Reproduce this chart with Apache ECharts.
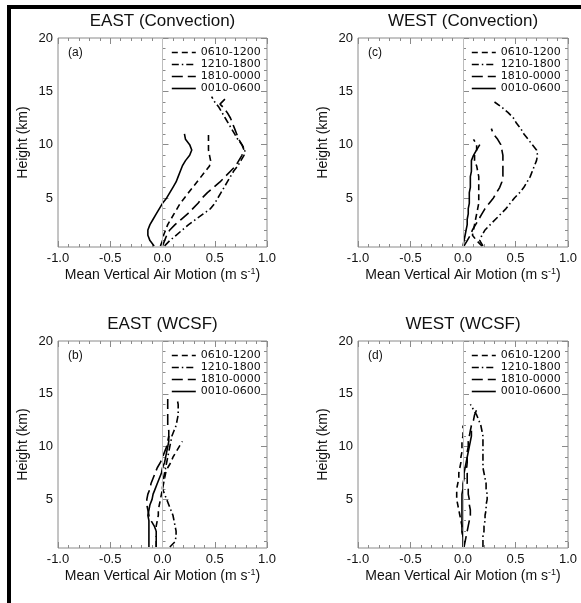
<!DOCTYPE html>
<html><head><meta charset="utf-8">
<script src="https://cdn.jsdelivr.net/npm/echarts@6/dist/echarts.min.js"></script>
<style>html,body{margin:0;padding:0;background:#fff}#c{width:581px;height:603px}</style>
</head><body><div id="c"></div><script>
// ---------- labels ----------
const seriesNames = ['0610-1200', '1210-1800', '1810-0000', '0010-0600'];
const panelTitles = ['EAST (Convection)', 'WEST (Convection)', 'EAST (WCSF)', 'WEST (WCSF)'];
const panelTags = ['(a)', '(c)', '(b)', '(d)'];
const xTickValues = [-1.0, -0.5, 0.0, 0.5, 1.0];
const yTickValues = [5, 10, 15, 20];
const yMinorTickValues = [1, 2, 3, 4, 6, 7, 8, 9, 11, 12, 13, 14, 16, 17, 18, 19];
const xAxisTitle = 'Mean Vertical Air Motion (m s{sup|-1})';
const yAxisTitle = 'Height (km)';

// ---------- heights (km) ----------
const H10  = [0.5,1,1.5,2,2.5,3,3.5,4,4.5,5,5.5,6,6.5,7,7.5,8,8.5,9,9.5,10];
const H105 = [0.5,1,1.5,2,2.5,3,3.5,4,4.5,5,5.5,6,6.5,7,7.5,8,8.5,9,9.5,10,10.5];
const H11  = [0.5,1,1.5,2,2.5,3,3.5,4,4.5,5,5.5,6,6.5,7,7.5,8,8.5,9,9.5,10,10.5,11];
const H115 = [0.5,1,1.5,2,2.5,3,3.5,4,4.5,5,5.5,6,6.5,7,7.5,8,8.5,9,9.5,10,10.5,11,11.5];
const H12  = [0.5,1,1.5,2,2.5,3,3.5,4,4.5,5,5.5,6,6.5,7,7.5,8,8.5,9,9.5,10,10.5,11,11.5,12];
const H135 = [0.5,1,1.5,2,2.5,3,3.5,4,4.5,5,5.5,6,6.5,7,7.5,8,8.5,9,9.5,10,10.5,11,11.5,12,12.5,13,13.5];
const H14  = [0.5,1,1.5,2,2.5,3,3.5,4,4.5,5,5.5,6,6.5,7,7.5,8,8.5,9,9.5,10,10.5,11,11.5,12,12.5,13,13.5,14];
const H143 = [0.5,1,1.5,2,2.5,3,3.5,4,4.5,5,5.5,6,6.5,7,7.5,8,8.5,9,9.5,10,10.5,11,11.5,12,12.5,13,13.5,13.8,14.3];
const H145 = [0.5,1,1.5,2,2.5,3,3.5,4,4.5,5,5.5,6,6.5,7,7.5,8,8.5,9,9.5,10,10.5,11,11.5,12,12.5,13,13.5,14,14.5];

// ---------- (a) EAST Convection: mean vertical air motion (m/s) ----------
const a0610 = [-0.02,0.00,0.01,0.03,0.05,0.08,0.11,0.14,0.17,0.21,0.25,0.29,0.33,0.37,0.41,0.45,0.46,0.45,0.44,0.44,0.44,0.44];
const a1210 = [0.02,0.07,0.13,0.19,0.25,0.32,0.39,0.46,0.50,0.53,0.56,0.59,0.62,0.65,0.68,0.72,0.75,0.78,0.79,0.76,0.72,0.69,0.66,0.63,0.60,0.57,0.54,0.50,0.47];
const a1810 = [0.00,0.02,0.04,0.07,0.12,0.18,0.24,0.29,0.34,0.38,0.43,0.49,0.55,0.60,0.65,0.70,0.73,0.76,0.78,0.76,0.73,0.71,0.69,0.67,0.65,0.62,0.58,0.55,0.60];
const a0010 = [-0.08,-0.12,-0.14,-0.14,-0.12,-0.09,-0.06,-0.03,0.00,0.04,0.07,0.10,0.13,0.15,0.17,0.19,0.22,0.26,0.28,0.26,0.22,0.21];

// ---------- (c) WEST Convection ----------
const c0610 = [0.18,0.13,0.09,0.10,0.11,0.12,0.13,0.14,0.15,0.15,0.15,0.15,0.15,0.15,0.14,0.13,0.11,0.11,0.13,0.13,0.10];
const c1210 = [0.19,0.16,0.18,0.21,0.26,0.31,0.36,0.41,0.45,0.49,0.54,0.58,0.61,0.64,0.66,0.68,0.70,0.71,0.70,0.66,0.62,0.58,0.55,0.51,0.48,0.43,0.37,0.30];
const c1810 = [0.01,0.04,0.07,0.09,0.12,0.15,0.18,0.21,0.25,0.29,0.32,0.35,0.37,0.38,0.38,0.38,0.38,0.38,0.37,0.36,0.33,0.29,0.27];
const c0010 = [0.00,0.01,0.02,0.03,0.04,0.04,0.05,0.05,0.06,0.06,0.06,0.07,0.07,0.07,0.08,0.08,0.08,0.10,0.13,0.16];

// ---------- (b) EAST WCSF ----------
const b0610 = [-0.06,-0.06,-0.06,-0.06,-0.06,-0.05,-0.04,-0.04,-0.03,-0.02,-0.01,0.00,0.01,0.02,0.03,0.05,0.08,0.10,0.13,0.16,0.19];
const b1210 = [0.07,0.12,0.13,0.13,0.12,0.11,0.10,0.08,0.06,0.04,0.02,0.00,0.00,0.01,0.02,0.03,0.04,0.05,0.06,0.07,0.08,0.09,0.11,0.13,0.14,0.15,0.15,0.15,0.14];
const b1810 = [-0.06,-0.06,-0.06,-0.06,-0.08,-0.11,-0.13,-0.14,-0.15,-0.15,-0.14,-0.12,-0.11,-0.09,-0.07,-0.05,-0.02,0.00,0.02,0.04,0.05,0.06,0.06,0.05,0.05,0.05,0.05,0.05,0.05];
const b0010 = [-0.13,-0.13,-0.13,-0.13,-0.13,-0.13,-0.14,-0.13,-0.12,-0.10,-0.09,-0.07,-0.05,-0.03,-0.01,0.00,0.02,0.03,0.04,0.05,0.06,0.06];

// ---------- (d) WEST WCSF ----------
const d0610 = [0.01,0.01,0.00,-0.01,-0.01,-0.02,-0.03,-0.04,-0.05,-0.06,-0.06,-0.06,-0.05,-0.04,-0.04,-0.03,-0.02,-0.02,-0.01,-0.01,-0.01,0.00,0.00,0.00];
const d1210 = [0.19,0.19,0.19,0.20,0.20,0.21,0.21,0.22,0.22,0.23,0.23,0.22,0.22,0.21,0.20,0.19,0.19,0.19,0.19,0.19,0.19,0.19,0.18,0.17,0.15,0.13,0.10,0.07];
const d1810 = [0.01,0.02,0.03,0.04,0.05,0.06,0.07,0.07,0.06,0.06,0.05,0.05,0.04,0.04,0.04,0.035,0.04,0.04,0.04,0.05,0.05,0.06,0.07,0.08,0.10,0.11,0.13];
const d0010 = [0.00,0.00,0.00,-0.01,-0.01,-0.01,-0.01,-0.01,-0.01,-0.01,-0.01,0.00,0.00,0.01,0.01,0.02,0.03,0.04,0.05,0.06,0.07,0.08,0.08];

// ---------- assembly ----------
const panels = [
  { title: panelTitles[0], tag: panelTags[0], grid: {left: 58, top: 38, width: 209, height: 209},
    lines: [[a0610, H11], [a1210, H145], [a1810, H143], [a0010, H11]] },
  { title: panelTitles[1], tag: panelTags[1], grid: {left: 358, top: 38, width: 210, height: 209},
    lines: [[c0610, H105], [c1210, H14], [c1810, H115], [c0010, H10]] },
  { title: panelTitles[2], tag: panelTags[2], grid: {left: 58, top: 341, width: 209, height: 207},
    lines: [[b0610, H105], [b1210, H145], [b1810, H145], [b0010, H11]] },
  { title: panelTitles[3], tag: panelTags[3], grid: {left: 358, top: 341, width: 210, height: 207},
    lines: [[d0610, H12], [d1210, H14], [d1810, H135], [d0010, H115]] }
];

const lineTypes = [[6, 4], [7, 3, 1.5, 3], [11, 5], 'solid'];
const FONT = 'Liberation Sans, Arial, sans-serif';
const TXT = '#111';
const AX = '#8a8a8a';

const grids = [], xAxes = [], yAxes = [], series = [], titles = [], legends = [], graphics = [];

panels.forEach((p, i) => {
  grids.push(Object.assign({show: true, borderColor: AX, borderWidth: 1, backgroundColor: 'transparent'}, p.grid));
  const xBase = {
    gridIndex: i, type: 'value', min: -1, max: 1, interval: 0.5,
    axisLine: {show: false}, splitLine: {show: false},
    axisTick: {show: true, inside: true, length: 6, lineStyle: {color: AX}},
    minorTick: {show: true, splitNumber: 5, length: 3, lineStyle: {color: AX}}
  };
  xAxes.push(Object.assign({}, xBase, {
    position: 'bottom',
    axisLabel: {customValues: xTickValues, formatter: v => v.toFixed(1), margin: 5, fontSize: 13, color: TXT, fontFamily: FONT},
    name: xAxisTitle, nameLocation: 'middle', nameGap: 20,
    nameTextStyle: {fontSize: 14, color: TXT, fontFamily: FONT,
      rich: {sup: {fontSize: 9, color: TXT, fontFamily: FONT, verticalAlign: 'top', lineHeight: 16}}}
  }));
  xAxes.push(Object.assign({}, xBase, {position: 'top', axisLabel: {show: false}}));

  const yBase = {gridIndex: i, type: 'value', min: 0.4, max: 20, axisLine: {show: false}, splitLine: {show: false}};
  ['left', 'right'].forEach(side => {
    yAxes.push(Object.assign({}, yBase, {
      position: side,
      axisTick: {show: true, inside: true, length: 6, customValues: yTickValues, lineStyle: {color: AX}},
      axisLabel: side === 'left'
        ? {customValues: yTickValues, margin: 5, fontSize: 13, color: TXT, fontFamily: FONT}
        : {show: false},
      name: side === 'left' ? yAxisTitle : '', nameLocation: 'middle', nameGap: 28,
      nameTextStyle: {fontSize: 14, color: TXT, fontFamily: FONT}
    }));
    yAxes.push(Object.assign({}, yBase, {
      position: side,
      axisTick: {show: true, inside: true, length: 3, customValues: yMinorTickValues, lineStyle: {color: AX}},
      axisLabel: {show: false}
    }));
  });

  p.lines.forEach((ln, k) => {
    const vals = ln[0], hs = ln[1];
    const s = {
      type: 'line', name: seriesNames[k], xAxisIndex: 2 * i, yAxisIndex: 4 * i,
      symbol: 'none', animation: false, silent: true,
      lineStyle: {color: '#000', width: 1.6, type: lineTypes[k]},
      itemStyle: {color: '#000'},
      data: vals.map((v, j) => [v, hs[j]])
    };
    if (k === 0) {
      s.markLine = {silent: true, symbol: 'none', animation: false, label: {show: false},
        lineStyle: {color: '#bdbdbd', width: 1, type: 'solid'}, data: [{xAxis: 0}]};
    }
    series.push(s);
  });

  const cx = p.grid.left + p.grid.width / 2;
  titles.push({text: p.title, left: cx, top: p.grid.top - 25, textAlign: 'center', padding: 0,
    textStyle: {fontSize: 17, fontWeight: 'normal', color: TXT, fontFamily: FONT}});

  legends.push({data: seriesNames, orient: 'vertical', left: p.grid.left + 113, top: p.grid.top + 9,
    padding: 0, itemWidth: 24, itemHeight: 10, itemGap: 1, selectedMode: false,
    itemStyle: {color: 'rgba(0,0,0,0)', borderWidth: 0, borderColor: 'rgba(0,0,0,0)'},
    lineStyle: {color: '#000', width: 1.6},
    textStyle: {fontSize: 11, lineHeight: 11, color: TXT, fontFamily: 'DejaVu Sans'}});

  graphics.push({type: 'text', left: p.grid.left + 10, top: p.grid.top + 9,
    style: {text: p.tag, fontSize: 12, fill: TXT, fontFamily: FONT}});
});

// outer frame (left and top borders)
graphics.push({type: 'rect', left: 7, top: 5, shape: {width: 4, height: 600}, style: {fill: '#000'}});
graphics.push({type: 'rect', left: 7, top: 5, shape: {width: 576, height: 4}, style: {fill: '#000'}});

const chart = echarts.init(document.getElementById('c'), null, {renderer: 'canvas'});
chart.setOption({
  backgroundColor: '#fff',
  animation: false,
  title: titles,
  legend: legends,
  grid: grids,
  xAxis: xAxes,
  yAxis: yAxes,
  series: series,
  graphic: graphics
});
</script></body></html>
